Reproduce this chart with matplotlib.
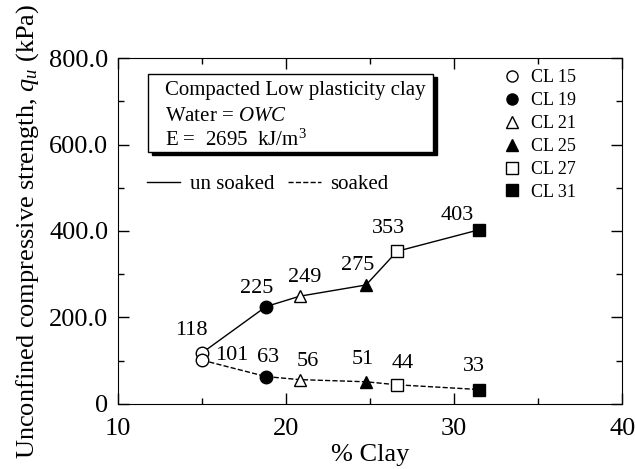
import numpy as np
import matplotlib
matplotlib.use('Agg')
import matplotlib.pyplot as plt
from matplotlib.lines import Line2D
from matplotlib.patches import Rectangle

plt.rcParams['font.family'] = ['Liberation Serif', 'DejaVu Serif']
plt.rcParams['mathtext.fontset'] = 'custom'
plt.rcParams['mathtext.rm'] = 'Liberation Serif'
plt.rcParams['mathtext.it'] = 'Liberation Serif:italic'

# --- DATA ---
clay = [15.0, 18.8, 20.8, 24.75, 26.6, 31.5]
samples = ['CL 15', 'CL 19', 'CL 21', 'CL 25', 'CL 27', 'CL 31']
unsoaked = [118, 225, 249, 275, 353, 403]
soaked = [101, 63, 56, 51, 44, 33]

markers = ['o', 'o', '^', '^', 's', 's']
faces = ['white', 'black', 'white', 'black', 'white', 'black']

# label offsets in pixels (dx, dy)
off_un = [(-11, 22), (-9, 18), (5, 19), (-8, 19), (-9, 23), (-22, 14)]
off_so = [(30, 5), (2, 19), (8, 18), (-3, 22), (6, 21), (-6, 23)]

fig = plt.figure(figsize=(6.35, 4.69), dpi=100)
ax = fig.add_axes([0.186, 0.139, 0.794, 0.737])

ax.plot(clay, unsoaked, '-', color='black', lw=1, zorder=2)
ax.plot(clay, soaked, '--', color='black', lw=1, zorder=2)

for i in range(len(clay)):
    for vals in (unsoaked, soaked):
        ax.plot(clay[i], vals[i], marker=markers[i], ms=9, mfc=faces[i],
                mec='black', mew=1, ls='none', zorder=3)
    ax.annotate(str(unsoaked[i]), (clay[i], unsoaked[i]), xytext=off_un[i],
                textcoords='offset pixels', ha='center', va='center', fontsize=16)
    ax.annotate(str(soaked[i]), (clay[i], soaked[i]), xytext=off_so[i],
                textcoords='offset pixels', ha='center', va='center', fontsize=16)

ax.set_xlim(10, 40)
ax.set_ylim(0, 800)
ax.set_xticks([10, 20, 30, 40])
ax.set_xticks([15, 25, 35], minor=True)
ax.set_yticks([0, 200, 400, 600, 800])
ax.set_yticklabels(['0', '200.0', '400.0', '600.0', '800.0'])
ax.set_yticks([100, 300, 500, 700], minor=True)
ax.tick_params(which='both', direction='in', top=True, right=True, labelsize=19, width=1)
ax.tick_params(which='major', length=8)
ax.tick_params(which='minor', length=4)
ax.tick_params(axis='x', pad=10)
ax.tick_params(axis='y', pad=7)

ax.set_xlabel('% Clay', fontsize=19, labelpad=3)
ax.set_ylabel('Unconfined compressive strength, $q_u$ (kPa)', fontsize=19, labelpad=6)

# info box with shadow
ax.add_patch(Rectangle((0.0675, 0.719), 0.565, 0.226, transform=ax.transAxes,
                       facecolor='black', edgecolor='black', zorder=4))
ax.add_patch(Rectangle((0.0595, 0.728), 0.565, 0.226, transform=ax.transAxes,
                       facecolor='white', edgecolor='black', lw=1, zorder=5))
ax.text(0.093, 0.906, 'Compacted Low plasticity clay', transform=ax.transAxes,
        fontsize=15, va='center', zorder=6)
ax.text(0.093, 0.831, 'Water = $\\it{OWC}$', transform=ax.transAxes,
        fontsize=15, va='center', zorder=6)
ax.text(0.093, 0.764, 'E =  2695  kJ/m$^3$', transform=ax.transAxes,
        fontsize=15, va='center', zorder=6)

# line-style legend
line_handles = [Line2D([], [], color='black', lw=1, ls='-'),
                Line2D([], [], color='black', lw=1, ls='--')]
leg1 = ax.legend(line_handles, ['un soaked', 'soaked'], ncol=2, frameon=False,
                 loc='center left', bbox_to_anchor=(0.02, 0.635), fontsize=15,
                 handlelength=1.6, handletextpad=0.45, columnspacing=0.65)
ax.add_artist(leg1)

# sample marker legend
mk_handles = [Line2D([], [], marker=markers[i], ms=8, mfc=faces[i], mec='black',
                     ls='none') for i in range(len(samples))]
ax.legend(mk_handles, samples, frameon=False, loc='upper left',
          bbox_to_anchor=(0.741, 1.0), fontsize=13, handlelength=1.0,
          handletextpad=0.6, labelspacing=0.33, borderaxespad=0.2)

fig.savefig('out.png', dpi=100)
